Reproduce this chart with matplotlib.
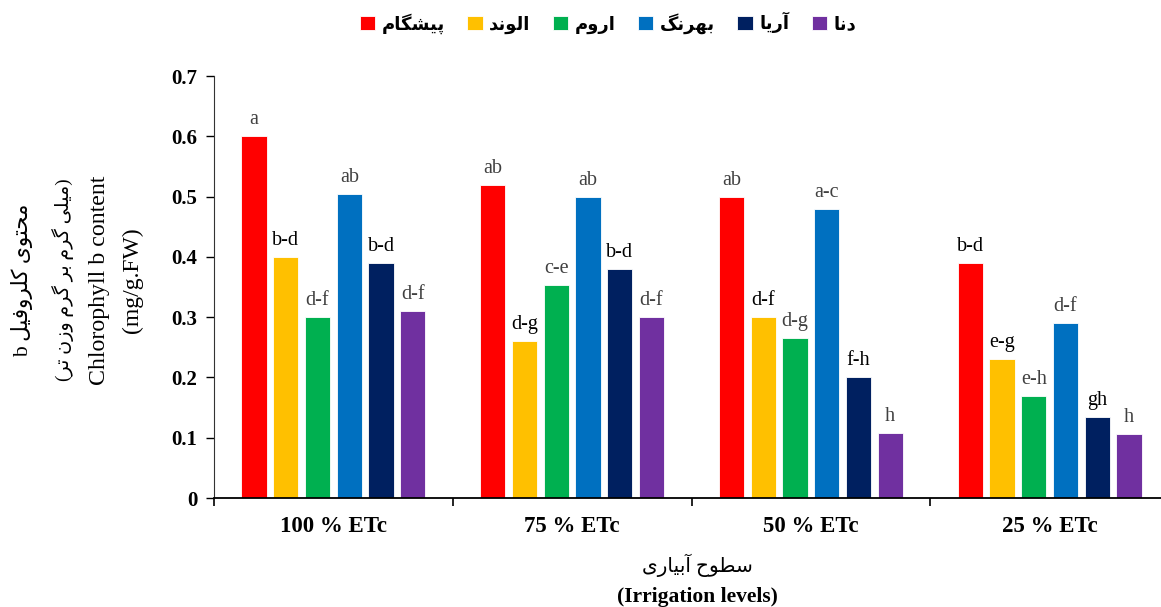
import matplotlib
matplotlib.use("Agg")
import matplotlib.pyplot as plt
import numpy as np

# Persian glyph forms: isolated, final, initial, medial (2 entries = joins only on the right)
FORMS = {
    "ا": (0xFE8D, 0xFE8E), "آ": (0xFE81, 0xFE82),
    "د": (0xFEA9, 0xFEAA), "ر": (0xFEAD, 0xFEAE),
    "ز": (0xFEAF, 0xFEB0), "و": (0xFEED, 0xFEEE),
    "ب": (0xFE8F, 0xFE90, 0xFE91, 0xFE92), "پ": (0xFB56, 0xFB57, 0xFB58, 0xFB59),
    "ت": (0xFE95, 0xFE96, 0xFE97, 0xFE98), "ح": (0xFEA1, 0xFEA2, 0xFEA3, 0xFEA4),
    "س": (0xFEB1, 0xFEB2, 0xFEB3, 0xFEB4), "ش": (0xFEB5, 0xFEB6, 0xFEB7, 0xFEB8),
    "ط": (0xFEC1, 0xFEC2, 0xFEC3, 0xFEC4), "ف": (0xFED1, 0xFED2, 0xFED3, 0xFED4),
    "ک": (0xFB8E, 0xFB8F, 0xFB90, 0xFB91), "گ": (0xFB92, 0xFB93, 0xFB94, 0xFB95),
    "ل": (0xFEDD, 0xFEDE, 0xFEDF, 0xFEE0), "م": (0xFEE1, 0xFEE2, 0xFEE3, 0xFEE4),
    "ن": (0xFEE5, 0xFEE6, 0xFEE7, 0xFEE8), "ه": (0xFEE9, 0xFEEA, 0xFEEB, 0xFEEC),
    "ی": (0xFBFC, 0xFBFD, 0xFBFE, 0xFBFF),
}


def fa(s):
    # join letters and flip to visual (left-to-right) order
    out = []
    for i, ch in enumerate(s):
        if ch not in FORMS:
            out.append(ch)
            continue
        f = FORMS[ch]
        prev = s[i - 1] if i > 0 else ""
        nxt = s[i + 1] if i + 1 < len(s) else ""
        jp = prev in FORMS and len(FORMS[prev]) == 4
        jn = nxt in FORMS and len(f) == 4
        if jp and jn:
            g = f[3]
        elif jp:
            g = f[1]
        elif jn:
            g = f[2]
        else:
            g = f[0]
        out.append(chr(g))
    return "".join(reversed(out))


# data
levels = ["100 % ETc", "75 % ETc", "50 % ETc", "25 % ETc"]
cultivars = ["پیشگام", "الوند", "اروم", "بهرنگ", "آریا", "دنا"]
pishgam = [0.600, 0.520, 0.500, 0.390]
alvand = [0.400, 0.260, 0.300, 0.230]
arum = [0.300, 0.353, 0.265, 0.170]
behrang = [0.505, 0.500, 0.480, 0.290]
aria = [0.390, 0.380, 0.200, 0.135]
dena = [0.310, 0.300, 0.108, 0.106]
letters = [
    ["a", "b-d", "d-f", "ab", "b-d", "d-f"],
    ["ab", "d-g", "c-e", "ab", "b-d", "d-f"],
    ["ab", "d-f", "d-g", "a-c", "f-h", "h"],
    ["b-d", "e-g", "e-h", "d-f", "gh", "h"],
]
dark_letters = [(0, 1), (0, 4), (1, 1), (1, 4), (2, 1), (2, 4), (3, 0), (3, 1), (3, 4)]

series = [pishgam, alvand, arum, behrang, aria, dena]
colors = ["#FF0000", "#FFC000", "#00B050", "#0070C0", "#002060", "#7030A0"]

serif = ["Liberation Serif", "DejaVu Sans"]

fig = plt.figure(figsize=(11.61, 6.07), dpi=100)
ax = fig.add_axes([214 / 1161, 109 / 607, 955 / 1161, 422 / 607])

x = np.arange(len(levels)) + 0.5
step = 0.133
width = 0.105
for j, vals in enumerate(series):
    pos = x + (j - 2.5) * step
    bars = ax.bar(pos, vals, width, color=colors[j], edgecolor="white",
                  linewidth=0.6, label=fa(cultivars[j]))
    for i, b in enumerate(bars):
        c = "black" if (i, j) in dark_letters else "#404040"
        ax.annotate(letters[i][j], (b.get_x() + b.get_width() / 2, b.get_height()),
                    xytext=(0, 5), textcoords="offset points", ha="center", va="bottom",
                    fontsize=14.5, color=c, family=serif)

ax.set_xlim(0, 4)
ax.set_ylim(0, 0.7)
ax.set_yticks(np.arange(0, 0.71, 0.1))
ax.set_yticklabels(["0", "0.1", "0.2", "0.3", "0.4", "0.5", "0.6", "0.7"],
                   fontsize=15, fontweight="bold", family=serif)
ax.set_xticks(x)
ax.set_xticklabels(levels, fontsize=16.5, fontweight="bold", family=serif)
ax.set_xticks(np.arange(0, 5), minor=True)
ax.tick_params(axis="x", which="major", length=0, pad=13)
ax.tick_params(axis="x", which="minor", length=6, width=1.2, direction="out")
ax.tick_params(axis="y", length=6, width=1, direction="out", pad=6)
for s in ["top", "right"]:
    ax.spines[s].set_visible(False)
ax.spines["left"].set_color("#333333")
ax.spines["bottom"].set_linewidth(1.3)

# y label (four lines)
ycen = 1 - 280 / 607
fig.text(22 / 1161, ycen, "b " + fa("محتوی کلروفیل"), rotation=90, ha="center",
         va="center", fontsize=15.5, family=serif)
fig.text(63 / 1161, ycen, "(" + fa("میلی گرم بر گرم وزن تر") + ")", rotation=90,
         ha="center", va="center", fontsize=13.8, family=serif)
fig.text(100 / 1161, ycen, "Chlorophyll b content", rotation=90, ha="center",
         va="center", fontsize=17.2, family=serif)
fig.text(132 / 1161, ycen, "(mg/g.FW)", rotation=90, ha="center", va="center",
         fontsize=17, family=serif)

# x label
fig.text(697 / 1161, 1 - 565 / 607, fa("سطوح آبیاری"), ha="center", va="center",
         fontsize=14.5, family=serif)
fig.text(697 / 1161, 1 - 597 / 607, "(Irrigation levels)", ha="center", va="center",
         fontsize=15.5, fontweight="bold", family=serif)

fig.legend(loc="center", bbox_to_anchor=(608 / 1161, 1 - 23 / 607), ncol=6,
           frameon=False, prop={"family": "DejaVu Sans", "weight": "bold", "size": 13},
           handlelength=0.85, handleheight=0.85, handletextpad=0.35, columnspacing=1.25)

plt.savefig("out.png", dpi=100)
